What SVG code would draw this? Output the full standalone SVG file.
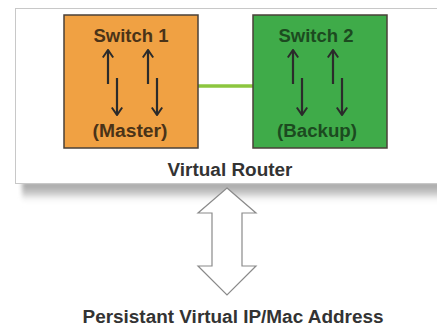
<svg xmlns="http://www.w3.org/2000/svg" width="437" height="328" viewBox="0 0 437 328">
  <defs>
    <linearGradient id="shadowGrad" x1="0" y1="0" x2="0" y2="1">
      <stop offset="0" stop-color="#9e9e9e"/>
      <stop offset="0.5" stop-color="#c8c8c8"/>
      <stop offset="1" stop-color="#ffffff" stop-opacity="0"/>
    </linearGradient>
    <filter id="soft" x="-5%" y="-50%" width="110%" height="200%">
      <feGaussianBlur stdDeviation="2"/>
    </filter>
    <!-- open V arrowhead, tip at the end of the line -->
    <marker id="head" viewBox="0 0 10 12" refX="9" refY="6" markerWidth="10" markerHeight="12" markerUnits="userSpaceOnUse" orient="auto">
      <path d="M1.5,0.8 L9,6 L1.5,11.2" fill="none" stroke="#2b2b2b" stroke-width="2" stroke-linejoin="miter"/>
    </marker>
  </defs>
  <style>
    .lbl { font-family: "Liberation Sans", Arial, sans-serif; font-weight: bold; font-size: 17.5px; text-anchor: middle; }
    .sw1 { fill: #4a3318; }
    .sw2 { fill: #1c4a20; }
    .dark { fill: #333333; }
    .box { stroke: #4a4038; stroke-width: 1.5; }
    .flow { stroke: #2b2b2b; stroke-width: 2.2; fill: none; }
  </style>

  <rect width="437" height="328" fill="#ffffff"/>

  <!-- drop shadow under the router panel -->
  <rect x="22" y="182" width="430" height="22" fill="url(#shadowGrad)" filter="url(#soft)"/>

  <!-- virtual router panel -->
  <g id="virtual-router">
    <rect x="15.5" y="8.5" width="430" height="175" fill="#ffffff" stroke="#c8c8c8" stroke-width="1"/>
    <text class="lbl dark" x="230" y="176" textLength="125" lengthAdjust="spacingAndGlyphs">Virtual Router</text>
  </g>

  <!-- link between the two switches -->
  <g id="connectors">
    <line x1="198" y1="86" x2="253" y2="86" stroke="#8cc63f" stroke-width="3.5"/>
  </g>

  <g id="switch-1">
    <rect class="box" x="64" y="15" width="134" height="133" fill="#f0a143"/>
    <text class="lbl sw1" x="131" y="42" textLength="75" lengthAdjust="spacingAndGlyphs">Switch 1</text>
    <line class="flow" x1="108" y1="84" x2="108" y2="50" marker-end="url(#head)"/>
    <line class="flow" x1="117" y1="78" x2="117" y2="115" marker-end="url(#head)"/>
    <line class="flow" x1="148" y1="84" x2="148" y2="50" marker-end="url(#head)"/>
    <line class="flow" x1="157" y1="78" x2="157" y2="115" marker-end="url(#head)"/>
    <text class="lbl sw1" x="130" y="137" textLength="75" lengthAdjust="spacingAndGlyphs">(Master)</text>
  </g>

  <g id="switch-2">
    <rect class="box" x="253" y="15" width="134" height="133" fill="#3fab49"/>
    <text class="lbl sw2" x="316" y="42" textLength="75" lengthAdjust="spacingAndGlyphs">Switch 2</text>
    <line class="flow" x1="293" y1="84" x2="293" y2="50" marker-end="url(#head)"/>
    <line class="flow" x1="302" y1="78" x2="302" y2="115" marker-end="url(#head)"/>
    <line class="flow" x1="333" y1="84" x2="333" y2="50" marker-end="url(#head)"/>
    <line class="flow" x1="342" y1="78" x2="342" y2="115" marker-end="url(#head)"/>
    <text class="lbl sw2" x="317" y="137" textLength="80" lengthAdjust="spacingAndGlyphs">(Backup)</text>
  </g>

  <!-- two-way block arrow to the persistent address -->
  <g id="address-link">
    <path d="M227,188 L256,213 L242,213 L242,266 L256,266 L227,295 L198,266 L212,266 L212,213 L198,213 Z" fill="#ffffff" stroke="#8a8a8a" stroke-width="1.2" stroke-linejoin="miter"/>
  </g>

  <g id="persistent-address">
    <text class="lbl dark" x="233" y="323" textLength="301" lengthAdjust="spacingAndGlyphs">Persistant Virtual IP/Mac Address</text>
  </g>
</svg>
